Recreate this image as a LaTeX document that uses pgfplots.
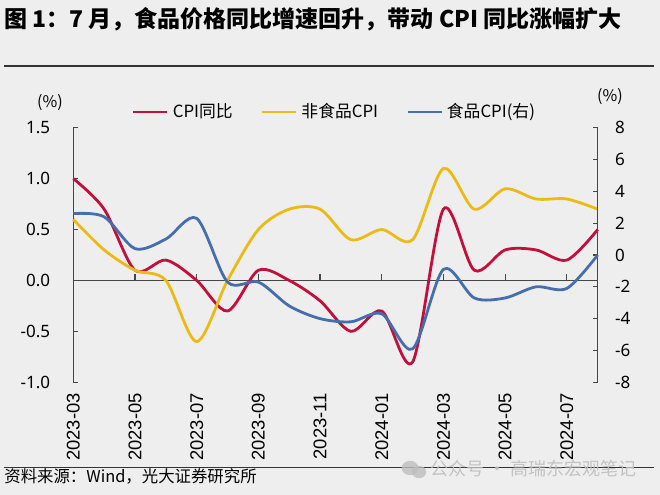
\documentclass[border=0pt]{standalone}
\usepackage{fontspec}
\usepackage{pgfplots}
\usepackage{pgfplotstable}
\pgfplotsset{compat=1.18}
\setmainfont{Noto Sans CJK SC}
\newfontfamily\numfont{Noto Sans}
\newfontfamily\datefont{Liberation Sans}
\definecolor{bg}{RGB}{238,238,238}
\definecolor{cred}{RGB}{195,15,60}
\definecolor{cyel}{RGB}{236,186,20}
\definecolor{cblue}{RGB}{70,110,172}
\definecolor{axc}{RGB}{70,70,70}
\definecolor{wm}{RGB}{190,190,190}

\pgfplotstableread{
i cpi nonfood food
0 1.0 0.6 2.6
1 0.7 0.3 2.4
2 0.1 0.1 0.4
3 0.2 0.0 1.0
4 0.0 -0.6 2.3
5 -0.3 0.0 -1.7
6 0.1 0.5 -1.7
7 0.0 0.7 -3.2
8 -0.2 0.7 -4.0
9 -0.5 0.4 -4.2
10 -0.3 0.5 -3.7
11 -0.8 0.4 -5.9
12 0.7 1.1 -0.9
13 0.1 0.7 -2.7
14 0.3 0.9 -2.7
15 0.3 0.8 -2.0
16 0.2 0.8 -2.1
17 0.5 0.7 0.0
}\data

\begin{document}
\begin{tikzpicture}
\fill[bg] (0,0) rectangle (330bp,247.5bp);
\path[use as bounding box] (0,0) rectangle (330bp,247.5bp);
\node[anchor=west, inner sep=0pt, font=\bfseries\fontsize{11.5bp}{14bp}\selectfont] at (2bp,238bp) {图 1：7 月，食品价格同比增速回升，带动 CPI 同比涨幅扩大};
\draw[black!80, line width=0.8bp] (2bp,214.5bp) -- (327bp,214.5bp);
\draw[black!80, line width=0.8bp] (2bp,13.75bp) -- (327bp,13.75bp);
\node[anchor=west, inner sep=0pt, font=\fontsize{8.2bp}{10bp}\selectfont] at (2bp,9.5bp) {资料来源：Wind，光大证券研究所};
% watermark
\fill[wm, opacity=0.8] (205bp,13.5bp) ellipse (4.2bp and 3.6bp);
\fill[wm, opacity=0.8] (209.5bp,11.5bp) ellipse (3.6bp and 3.1bp);
\node[anchor=west, inner sep=0pt, text=wm, opacity=0.9, font=\fontsize{9bp}{11bp}\selectfont] at (215bp,13bp) {公众号 · 高瑞东宏观笔记};
\node[font=\fontsize{8bp}{10bp}\selectfont, inner sep=0pt] at (25bp,196bp) {(\%)};
\node[font=\fontsize{8bp}{10bp}\selectfont, inner sep=0pt] at (305bp,199bp) {(\%)};

\begin{axis}[
  at={(36.65bp,56.35bp)}, anchor=south west,
  scale only axis, width=262.2bp, height=127.3bp,
  xmin=0, xmax=17, ymin=-1, ymax=1.5,
  clip=false,
  axis y line*=left, axis x line*=bottom,
  x axis line style={draw=none},
  xtick={0,2,...,16},
  xticklabels={2023-03,2023-05,2023-07,2023-09,2023-11,2024-01,2024-03,2024-05,2024-07},
  x tick style={draw=none},
  xticklabel style={rotate=90, anchor=east, font=\datefont\fontsize{9.2bp}{11bp}\selectfont, inner sep=0pt},
  xticklabel shift=5.3bp,
  ytick={-1,-0.5,0,0.5,1,1.5},
  yticklabel style={font=\numfont\fontsize{8.5bp}{10bp}\selectfont, inner sep=0pt,
     /pgf/number format/.cd, fixed, fixed zerofill, precision=1, assume math mode=true},
  yticklabel shift=11.4bp,
  tick align=inside, major tick length=2.5bp,
  y axis line style={axc, line width=0.6bp},
  y tick style={axc, line width=0.6bp},
  legend style={at={(0.5,1.062)}, anchor=center, draw=none, fill=none,
     font=\fontsize{8.4bp}{10bp}\selectfont, inner sep=0pt,
     /tikz/every even column/.append style={column sep=12bp}},
  legend columns=3,
  legend image code/.code={\draw[#1, line width=1.4bp] (0bp,0bp) -- (17bp,0bp);},
]
\draw[axc, line width=0.6bp] (axis cs:0,0) -- (axis cs:17,0);
\pgfplotsinvokeforeach{2,4,...,16}{\draw[axc, line width=0.6bp] (axis cs:#1,0) -- ([yshift=3.3bp]axis cs:#1,0);}
\addplot[cred, line width=1.4bp, smooth] table[x=i,y=cpi]{\data};
\addlegendentry{CPI同比}
\addplot[cyel, line width=1.4bp, smooth] table[x=i,y=nonfood]{\data};
\addlegendentry{非食品CPI}
\addlegendimage{cblue, line width=1.4bp}
\addlegendentry{食品CPI(右)}
\end{axis}

\begin{axis}[
  at={(36.65bp,56.35bp)}, anchor=south west,
  scale only axis, width=262.2bp, height=127.3bp,
  xmin=0, xmax=17, ymin=-8, ymax=8,
  clip=false,
  axis y line*=right, axis x line=none,
  ytick={-8,-6,-4,-2,0,2,4,6,8},
  yticklabel style={font=\numfont\fontsize{8.5bp}{10bp}\selectfont, inner sep=0pt, anchor=west,
     /pgf/number format/assume math mode=true},
  yticklabel shift=8.5bp,
  tick align=inside, major tick length=2.5bp,
  y axis line style={axc, line width=0.6bp},
  y tick style={axc, line width=0.6bp},
]
\addplot[cblue, line width=1.4bp, smooth] table[x=i,y=food]{\data};
\end{axis}
\end{tikzpicture}
\end{document}
